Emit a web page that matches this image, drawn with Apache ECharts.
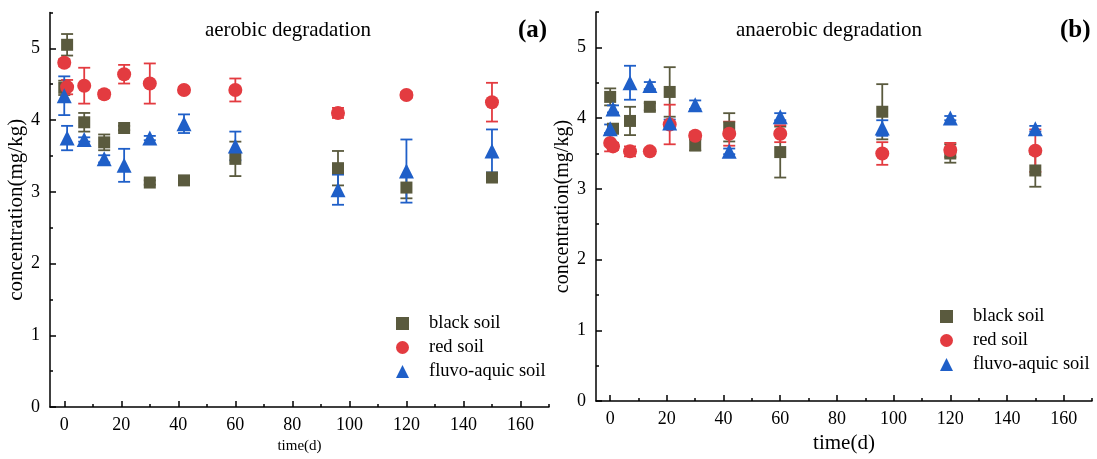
<!DOCTYPE html>
<html>
<head>
<meta charset="utf-8">
<script src="https://cdn.jsdelivr.net/npm/echarts@6/dist/echarts.min.js"></script>
<style>
  html, body { margin: 0; padding: 0; background: #fff; }
  #chart { width: 1097px; height: 459px; }
</style>
</head>
<body>
<div id="chart"></div>
<script>
// sampling days
const times = [0, 1, 7, 14, 21, 30, 42, 60, 96, 120, 150];
const xTicks = [0, 20, 40, 60, 80, 100, 120, 140, 160];
const xMinorTicks = [10, 30, 50, 70, 90, 110, 130, 150, 170];
const yTicks = [0, 1, 2, 3, 4, 5];
const yMinorTicks = [0.5, 1.5, 2.5, 3.5, 4.5, 5.5];

// (a) aerobic
const blackA = [4.45, 5.05, 3.97, 3.69, 3.89, 3.13, 3.16, 3.46, 3.33, 3.06, 3.20];
const blackAErr = [0.1, 0.15, 0.13, 0.11, 0.03, 0.03, 0.03, 0.24, 0.24, 0.15, 0.05];
const redA = [4.80, 4.46, 4.48, 4.36, 4.64, 4.51, 4.42, 4.42, 4.10, 4.35, 4.25];
const redAErr = [0.05, 0.1, 0.25, 0.05, 0.13, 0.28, 0.04, 0.16, 0.07, 0.04, 0.27];
const blueA = [4.34, 3.75, 3.73, 3.46, 3.37, 3.75, 3.95, 3.64, 3.03, 3.29, 3.57];
const blueAErr = [0.27, 0.17, 0.03, 0.05, 0.23, 0.03, 0.13, 0.2, 0.21, 0.44, 0.3];

// (b) anaerobic
const blackB = [4.30, 3.85, 3.96, 4.16, 4.37, 3.62, 3.87, 3.52, 4.09, 3.50, 3.26];
const blackBErr = [0.12, 0.05, 0.2, 0.05, 0.35, 0.08, 0.2, 0.36, 0.39, 0.13, 0.23];
const redB = [3.65, 3.60, 3.53, 3.53, 3.91, 3.75, 3.78, 3.78, 3.50, 3.55, 3.54];
const redBErr = [0.12, 0.05, 0.07, 0.04, 0.28, 0.05, 0.17, 0.12, 0.16, 0.1, 0.3];
const blueB = [3.85, 4.13, 4.50, 4.46, 3.93, 4.19, 3.53, 4.02, 3.86, 4.00, 3.85];
const blueBErr = [0.06, 0.05, 0.24, 0.05, 0.05, 0.06, 0.04, 0.05, 0.11, 0.03, 0.04];

const names = ["black soil", "red soil", "fluvo-aquic soil"];
const colors = ["#5a5a3e", "#e33b40", "#1f5fc8"];
const symbols = ["rect", "circle", "triangle"];
const sizes = [12, 14, 15];
const font = "'Liberation Serif', 'Times New Roman', serif";

const chart = echarts.init(document.getElementById("chart"));

function pairs(vals) {
  return times.map((t, i) => [t, vals[i]]);
}
function bars(vals, errs) {
  return times.map((t, i) => [t, vals[i] - errs[i], vals[i] + errs[i]]);
}

function errSeries(idx, vals, errs, color) {
  return {
    type: "custom",
    name: "err" + idx,
    xAxisIndex: idx * 2,
    yAxisIndex: idx * 2,
    z: 2,
    silent: true,
    encode: { x: 0, y: [1, 2] },
    data: bars(vals, errs),
    renderItem: function (params, api) {
      const lo = api.coord([api.value(0), api.value(1)]);
      const hi = api.coord([api.value(0), api.value(2)]);
      const w = 6;
      const st = { stroke: color, lineWidth: 1.8 };
      return {
        type: "group",
        children: [
          { type: "line", shape: { x1: lo[0], y1: lo[1], x2: hi[0], y2: hi[1] }, style: st },
          { type: "line", shape: { x1: lo[0] - w, y1: lo[1], x2: lo[0] + w, y2: lo[1] }, style: st },
          { type: "line", shape: { x1: hi[0] - w, y1: hi[1], x2: hi[0] + w, y2: hi[1] }, style: st }
        ]
      };
    }
  };
}

function scatterSeries(idx, k, vals) {
  return {
    type: "scatter",
    name: names[k],
    xAxisIndex: idx * 2,
    yAxisIndex: idx * 2,
    z: 3,
    symbol: symbols[k],
    symbolSize: sizes[k],
    itemStyle: { color: colors[k], opacity: 1 },
    data: pairs(vals)
  };
}

function xAxes(gridIndex, nameSize, nameGap) {
  return [
    {
      type: "value", gridIndex: gridIndex, position: "bottom", min: -5, max: 170,
      name: "time(d)", nameLocation: "middle", nameGap: nameGap,
      nameTextStyle: { fontFamily: font, fontSize: nameSize, color: "#000" },
      axisLine: { onZero: false, lineStyle: { color: "#000", width: 1.5 } },
      axisTick: { inside: true, length: 6, customValues: xTicks, lineStyle: { color: "#000", width: 1.5 } },
      axisLabel: { customValues: xTicks, fontFamily: font, fontSize: 18, color: "#000", margin: 9 },
      splitLine: { show: false }
    },
    {
      type: "value", gridIndex: gridIndex, position: "bottom", min: -5, max: 170,
      axisLine: { show: false, onZero: false },
      axisTick: { inside: true, length: 3, customValues: xMinorTicks, lineStyle: { color: "#000", width: 1.5 } },
      axisLabel: { show: false },
      splitLine: { show: false }
    }
  ];
}

function yAxes(gridIndex, nameSize, nameGap) {
  return [
    {
      type: "value", gridIndex: gridIndex, position: "left", min: 0, max: 5.5,
      name: "concentration(mg/kg)", nameLocation: "middle", nameGap: nameGap,
      nameTextStyle: { fontFamily: font, fontSize: nameSize, color: "#000" },
      axisLine: { show: true, onZero: false, lineStyle: { color: "#000", width: 1.5 } },
      axisTick: { show: true, inside: true, length: 6, customValues: yTicks, lineStyle: { color: "#000", width: 1.5 } },
      axisLabel: { customValues: yTicks, fontFamily: font, fontSize: 18, color: "#000", margin: 10 },
      splitLine: { show: false }
    },
    {
      type: "value", gridIndex: gridIndex, position: "left", min: 0, max: 5.5,
      axisLine: { show: false, onZero: false },
      axisTick: { show: true, inside: true, length: 3, customValues: yMinorTicks, lineStyle: { color: "#000", width: 1.5 } },
      axisLabel: { show: false },
      splitLine: { show: false }
    }
  ];
}

function legendAt(left, top) {
  return {
    orient: "vertical", left: left, top: top,
    data: names, itemWidth: 13, itemHeight: 13, itemGap: 5,
    selectedMode: false,
    textStyle: { fontFamily: font, fontSize: 18.5, color: "#000", padding: [0, 0, 0, 15] }
  };
}

const option = {
  animation: false,
  backgroundColor: "#fff",
  title: [
    { text: "aerobic degradation", left: 283, top: 15, textAlign: "center",
      textStyle: { fontFamily: font, fontSize: 21, fontWeight: "normal", color: "#000" } },
    { text: "(a)", left: 513, top: 13,
      textStyle: { fontFamily: font, fontSize: 25, fontWeight: "bold", color: "#000" } },
    { text: "anaerobic degradation", left: 824, top: 15, textAlign: "center",
      textStyle: { fontFamily: font, fontSize: 21, fontWeight: "normal", color: "#000" } },
    { text: "(b)", left: 1055, top: 13,
      textStyle: { fontFamily: font, fontSize: 25, fontWeight: "bold", color: "#000" } }
  ],
  legend: [legendAt(391, 309), legendAt(935, 302)],
  grid: [
    { left: 50, right: 548, top: 12.5, bottom: 45 },
    { left: 596, right: 5, top: 12, bottom: 49 }
  ],
  xAxis: xAxes(0, 15, 25).concat(xAxes(1, 21, 25)),
  yAxis: yAxes(0, 21, 21).concat(yAxes(1, 20, 18)),
  series: [
    errSeries(0, blackA, blackAErr, colors[0]),
    errSeries(0, redA, redAErr, colors[1]),
    errSeries(0, blueA, blueAErr, colors[2]),
    scatterSeries(0, 0, blackA),
    scatterSeries(0, 1, redA),
    scatterSeries(0, 2, blueA),
    errSeries(1, blackB, blackBErr, colors[0]),
    errSeries(1, redB, redBErr, colors[1]),
    errSeries(1, blueB, blueBErr, colors[2]),
    scatterSeries(1, 0, blackB),
    scatterSeries(1, 1, redB),
    scatterSeries(1, 2, blueB)
  ]
};

chart.setOption(option);
</script>
</body>
</html>
